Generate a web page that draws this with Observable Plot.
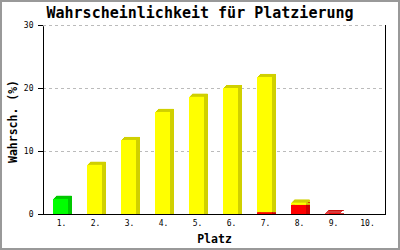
<!DOCTYPE html>
<html>
<head>
<meta charset="utf-8">
<script src="https://cdn.jsdelivr.net/npm/d3@7"></script>
<script src="https://cdn.jsdelivr.net/npm/@observablehq/plot@0.6"></script>
<style>
  html, body { margin: 0; padding: 0; background: #fff; }
  #wrap { position: relative; width: 400px; height: 250px; overflow: hidden; }
  #wrap svg { position: absolute; left: 0; top: 0; }
  #border { position: absolute; left: 0; top: 0; width: 400px; height: 250px; box-sizing: border-box; border: 2px solid #999; pointer-events: none; }
</style>
</head>
<body>
<div id="wrap"><div id="border"></div></div>
<script>
const places = ["1.", "2.", "3.", "4.", "5.", "6.", "7.", "8.", "9.", "10."];
const redValues    = [0, 0, 0, 0, 0, 0, 0.3, 1.45, 0.12, 0];
const yellowValues = [0, 7.8, 11.75, 16.2, 18.6, 20.0, 21.45, 0.35, 0, 0];
const greenValues  = [2.4, 0, 0, 0, 0, 0, 0, 0, 0, 0];
const yTicks = [0, 10, 20, 30];

const seriesList = [
  {name: "red", values: redValues, front: "#ff0000", dark: "#cc0000"},
  {name: "yellow", values: yellowValues, front: "#ffff00", dark: "#d0d000"},
  {name: "green", values: greenValues, front: "#00ff00", dark: "#00c800"}
];

// stack segments (bottom to top: red, yellow, green)
const segments = [];
places.forEach((p, i) => {
  let base = 0;
  for (const s of seriesList) {
    const v = s.values[i];
    if (v > 0) segments.push({place: p, series: s.name, y1: base, y2: base + v});
    base += v;
  }
});

const depth = [[1, -1], [2, -2], [3, -3], [4, -3], [4, 0]];
const inset = {insetLeft: 9, insetRight: 10};
const fontMono = "'DejaVu Sans Mono', 'Liberation Mono', monospace";

const barMarks = [];
for (const s of seriesList) {
  const d = segments.filter(g => g.series === s.name);
  for (const [dx, dy] of depth) {
    barMarks.push(Plot.barY(d, {x: "place", y1: "y1", y2: "y2", fill: s.dark, dx, dy, ...inset}));
  }
  barMarks.push(Plot.barY(d, {x: "place", y1: "y1", y2: "y2", fill: s.front, ...inset}));
}

const chart = Plot.plot({
  width: 400,
  height: 250,
  marginLeft: 43,
  marginRight: 15,
  marginTop: 25,
  marginBottom: 36,
  style: {fontFamily: fontMono, fontSize: "8px", color: "#000", background: "transparent"},
  x: {type: "band", domain: places, padding: 0, label: null, tickSize: 0, tickPadding: 6},
  y: {domain: [0, 30], ticks: yTicks, tickSize: 5, tickPadding: 5, label: null},
  marks: [
    Plot.ruleY(yTicks.slice(1), {stroke: "#bbbbbb", strokeDasharray: "3,3"}),
    ...barMarks,
    Plot.frame({stroke: "#000"}),
    Plot.ruleY([30], {stroke: "#fff", strokeWidth: 1.5}),
    Plot.ruleY([30], {stroke: "#bbbbbb", strokeDasharray: "3,3"}),
    Plot.text(["Wahrscheinlichkeit für Platzierung"], {text: d => d, frameAnchor: "top", dx: -14.5, dy: -12, fontSize: 15, fontWeight: "bold", fill: "#000", lineAnchor: "middle"}),
    Plot.text(["Wahrsch. (%)"], {text: d => d, frameAnchor: "left", dx: -30.5, dy: 1.5, rotate: -90, fontSize: 11.5, fontWeight: "bold", fill: "#000", textAnchor: "middle", lineAnchor: "middle"}),
    Plot.text(["Platz"], {text: d => d, frameAnchor: "bottom", dy: 25, fontSize: 11.5, fontWeight: "bold", fill: "#000", textAnchor: "middle", lineAnchor: "middle"})
  ]
});
document.getElementById("wrap").insertBefore(chart, document.getElementById("border"));
</script>
</body>
</html>
